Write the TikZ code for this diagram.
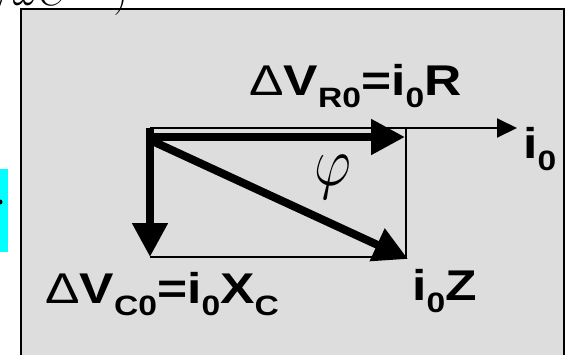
\RequirePackage{fix-cm}
\documentclass[tikz,border=0pt]{standalone}
\usepackage{fontspec}
\newfontfamily\lblfont[FakeStretch=1.2]{Liberation Sans}
\usetikzlibrary{arrows.meta}
\definecolor{boxgray}{HTML}{DDDDDD}
\definecolor{tabcyan}{HTML}{00FFFF}
\newcommand{\subs}[1]{\raisebox{-0.3em}{\fontsize{28}{28}\selectfont #1}}
\tikzset{
  thinline/.style={line width=2pt},
  phasor/.style={line width=8pt, -{Triangle[length=34pt,width=34pt]}},
  probe/.style={line width=2pt, -{Triangle[length=20pt,width=19pt]}},
  lbl/.style={font=\lblfont\bfseries\fontsize{43}{43}\selectfont, inner sep=0pt, anchor=base west},
}

\begin{document}
\begin{tikzpicture}[x=1pt,y=-1pt]
\useasboundingbox (0,0) rectangle (571,354);
% frame and cut-off neighbours
\draw[thinline,fill=boxgray] (21,9) rectangle (564,372);
\fill[tabcyan] (-5,169) rectangle (8,252);
\fill (0,202) circle[radius=2.5];
\node[font=\fontsize{40}{40}\selectfont, anchor=base west, inner sep=0pt] (wc) at (-6,5) {$/\omega C\;\;\;\;)$};
% phasor corners
\coordinate (O) at (150,128);
\coordinate (Ot) at (150,137);
\coordinate (Od) at (150,140);
\coordinate (R) at (405,137);
\coordinate (C) at (150,257);
\coordinate (Z) at (408,259);
\coordinate (I) at (517,128);
\coordinate (RC) at (406,257);
\coordinate (RT) at (406,128);
\draw[thinline] (C) -- (RC) -- (RT);
\draw[probe] (O) -- (I);
\draw[phasor] (Ot) -- (R);
\draw[phasor] (O) -- (C);
\draw[phasor] (Od) -- (Z);
% labels
\node[lbl] (vr) at (249,95) {{\mdseries Δ}V\subs{R0}=i\subs{0}R};
\node[lbl] (i0) at (523,158) {i\subs{0}};
\node[lbl] (vc) at (45,303) {{\mdseries Δ}V\subs{C0}=i\subs{0}X\subs{C}};
\node[lbl] (iz) at (412,300) {i\subs{0}Z};
\node[font=\fontsize{70}{70}\selectfont, inner sep=0pt] (phi) at (333,177) {\scalebox{0.82}[1]{$\varphi$}};
\end{tikzpicture}
\end{document}
